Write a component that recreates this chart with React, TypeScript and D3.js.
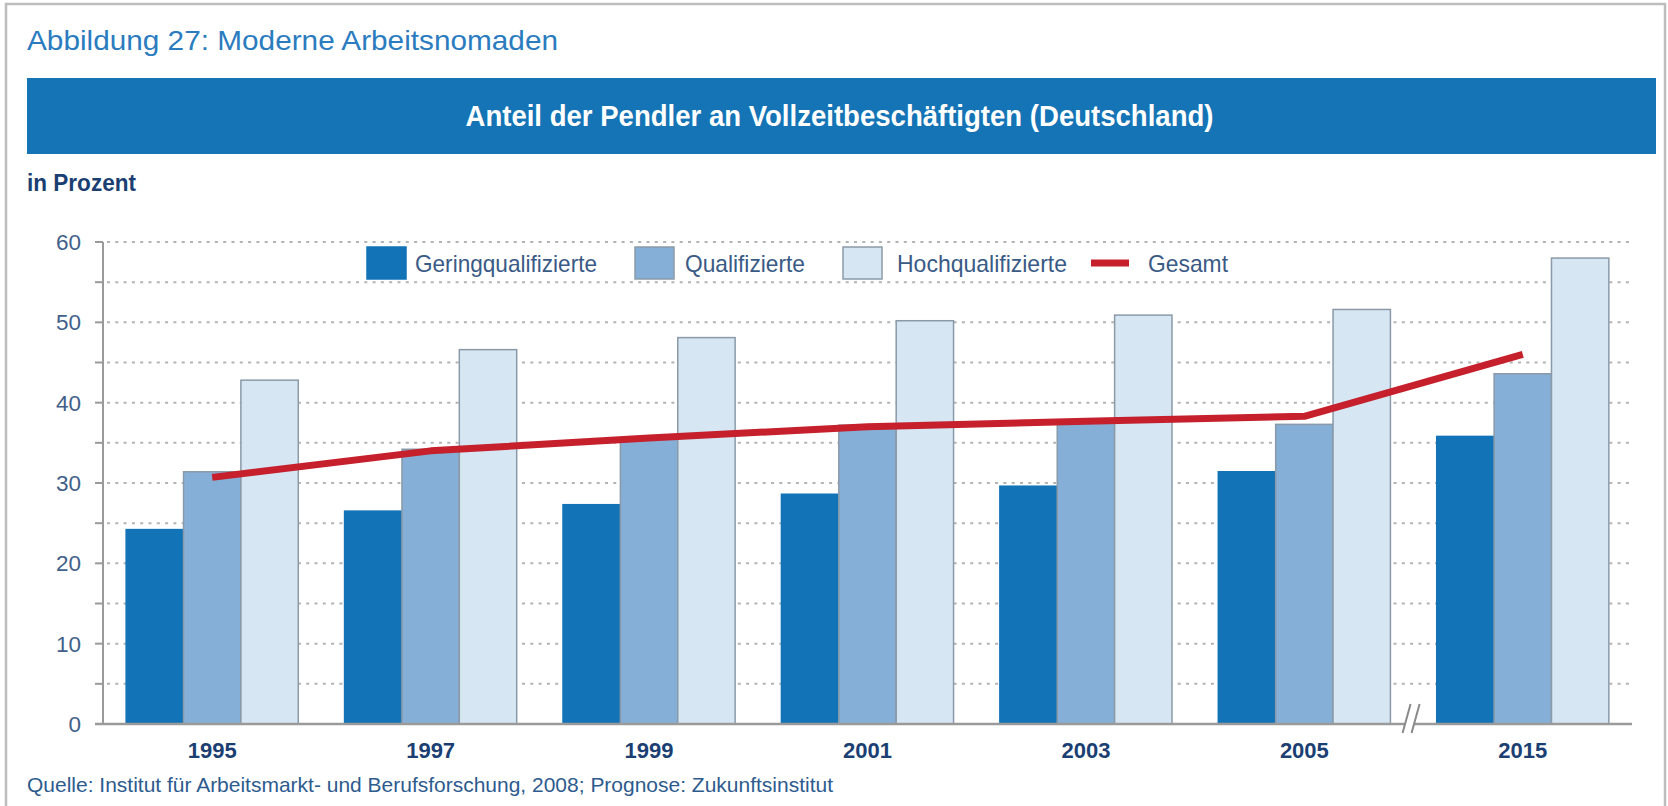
import React from "react";
import * as d3 from "d3";

const years = ["1995", "1997", "1999", "2001", "2003", "2005", "2015"];
const seriesNames = ["Geringqualifizierte", "Qualifizierte", "Hochqualifizierte"];
const gering = [24.2, 26.5, 27.3, 28.6, 29.6, 31.4, 35.8];
const qualifiziert = [31.4, 34.2, 35.5, 37.2, 37.7, 37.3, 43.6];
const hochqualifiziert = [42.8, 46.6, 48.1, 50.2, 50.9, 51.6, 58.0];
const gesamt = [30.7, 34.0, 35.6, 37.0, 37.7, 38.3, 46.0];
const yTicks = [0, 10, 20, 30, 40, 50, 60];
const gridTicks = [5, 10, 15, 20, 25, 30, 35, 40, 45, 50, 55, 60];

const W = 1668;
const H = 806;
const barColors = ["#1273b7", "#86afd7", "#d6e6f3"];
const barStroke = ["#1273b7", "#8b9aa8", "#8b9aa8"];
const lineColor = "#c5202c";
const FONT = "'Liberation Sans Narrow', 'Liberation Sans', Arial, sans-serif";
const FONT_R = "'Liberation Sans', Arial, sans-serif";

export default function App() {
  const left = 103;
  const right = 1632;
  const y = d3.scaleLinear().domain([0, 60]).range([724, 242]);
  const x0 = d3.scaleBand<string>().domain(years).range([left, right]).padding(0);
  const bw = x0.bandwidth();
  const groupW = bw * 0.788;
  const x1 = d3
    .scaleBand<string>()
    .domain(seriesNames)
    .range([(bw - groupW) / 2, (bw + groupW) / 2])
    .padding(0);
  const seriesData = [gering, qualifiziert, hochqualifiziert];

  const linePts: [number, number][] = years.map((yr, i) => [
    (x0(yr) as number) + bw / 2,
    y(gesamt[i]),
  ]);
  const lineGen = d3.line();
  const b = x0("2015") as number;

  const legendItems = [
    { sw: 367, tx: 415, tw: 182, label: "Geringqualifizierte", kind: 0 },
    { sw: 635, tx: 685, tw: 120, label: "Qualifizierte", kind: 1 },
    { sw: 843, tx: 897, tw: 170, label: "Hochqualifizierte", kind: 2 },
    { sw: 1091, tx: 1148, tw: 80, label: "Gesamt", kind: 3 },
  ];

  return (
    <svg
      width={W}
      height={H}
      style={{ position: "absolute", left: 0, top: 0, background: "#fff" }}
    >
      {/* frame */}
      <rect x={6} y={4} width={1659} height={H + 10} fill="none" stroke="#bdbdbd" strokeWidth={2.5} />

      {/* title */}
      <text x={27} y={50} fill="#2b7cbf" fontFamily={FONT_R} fontSize={28} textLength={531} lengthAdjust="spacingAndGlyphs">
        Abbildung 27: Moderne Arbeitsnomaden
      </text>

      {/* banner */}
      <rect x={27} y={78} width={1629} height={76} fill="#1474b6" />
      <text
        x={(27 + 1656) / 2 - 2}
        y={126}
        fill="#fff"
        fontFamily={FONT}
        fontWeight="bold"
        fontSize={30}
        textAnchor="middle"
        textLength={748}
        lengthAdjust="spacingAndGlyphs"
      >
        Anteil der Pendler an Vollzeitbeschäftigten (Deutschland)
      </text>

      <text x={27} y={191} fill="#1b3f73" fontFamily={FONT} fontWeight="bold" fontSize={23} textLength={109} lengthAdjust="spacingAndGlyphs">
        in Prozent
      </text>

      {/* gridlines */}
      {gridTicks.map((t) => (
        <line
          key={"g" + t}
          x1={left + 4}
          x2={right}
          y1={y(t)}
          y2={y(t)}
          stroke="#b3b3b3"
          strokeWidth={2}
          strokeDasharray="3,5.3"
        />
      ))}

      {/* bars */}
      {years.map((yr, i) => (
        <g key={yr} transform={`translate(${x0(yr)},0)`}>
          {seriesNames.map((s, j) => (
            <rect
              key={s}
              x={x1(s) as number}
              y={y(seriesData[j][i])}
              width={x1.bandwidth()}
              height={y(0) - y(seriesData[j][i])}
              fill={barColors[j]}
              stroke={barStroke[j]}
              strokeWidth={1.5}
            />
          ))}
        </g>
      ))}

      {/* line */}
      <path d={lineGen(linePts) || ""} fill="none" stroke={lineColor} strokeWidth={7} strokeLinejoin="round" />

      {/* axes */}
      <line x1={left} x2={left} y1={y(60)} y2={y(0)} stroke="#9a9a9a" strokeWidth={2} />
      {[0, ...gridTicks].map((t) => (
        <line key={"t" + t} x1={95} x2={left} y1={y(t)} y2={y(t)} stroke="#9a9a9a" strokeWidth={2} />
      ))}
      <line x1={95} x2={right} y1={y(0)} y2={y(0)} stroke="#9a9a9a" strokeWidth={2.5} />
      {yTicks.map((t) => (
        <text
          key={"l" + t}
          x={81}
          y={y(t)}
          dy="0.36em"
          textAnchor="end"
          fill="#41608a"
          fontFamily={FONT_R}
          fontSize={22.5}
        >
          {t}
        </text>
      ))}
      {years.map((yr) => (
        <text
          key={"x" + yr}
          x={(x0(yr) as number) + bw / 2}
          y={758}
          textAnchor="middle"
          fill="#1b3f73"
          fontFamily={FONT_R}
          fontWeight="bold"
          fontSize={22}
        >
          {yr}
        </text>
      ))}

      {/* axis break */}
      <rect x={b - 8} y={y(0) - 3} width={8} height={6} fill="#fff" />
      <line x1={b - 11} x2={b - 3} y1={733} y2={704} stroke="#8a8a8a" strokeWidth={2} />
      <line x1={b - 2} x2={b + 6} y1={733} y2={704} stroke="#8a8a8a" strokeWidth={2} />

      {/* legend */}
      {legendItems.map((it) => (
        <g key={it.label}>
          {it.kind < 3 ? (
            <rect
              x={it.sw}
              y={247}
              width={39}
              height={32}
              fill={barColors[it.kind]}
              stroke={barStroke[it.kind]}
              strokeWidth={1.5}
            />
          ) : (
            <line x1={it.sw} x2={it.sw + 38} y1={263} y2={263} stroke={lineColor} strokeWidth={7} />
          )}
          <text
            x={it.tx}
            y={272}
            fill="#3a5a86"
            fontFamily={FONT}
            fontSize={24}
            textLength={it.tw}
            lengthAdjust="spacingAndGlyphs"
          >
            {it.label}
          </text>
        </g>
      ))}

      {/* source */}
      <text x={27} y={792} fill="#2d5b8e" fontFamily={FONT} fontSize={21} textLength={806} lengthAdjust="spacingAndGlyphs">
        Quelle: Institut für Arbeitsmarkt- und Berufsforschung, 2008; Prognose: Zukunftsinstitut
      </text>
    </svg>
  );
}
